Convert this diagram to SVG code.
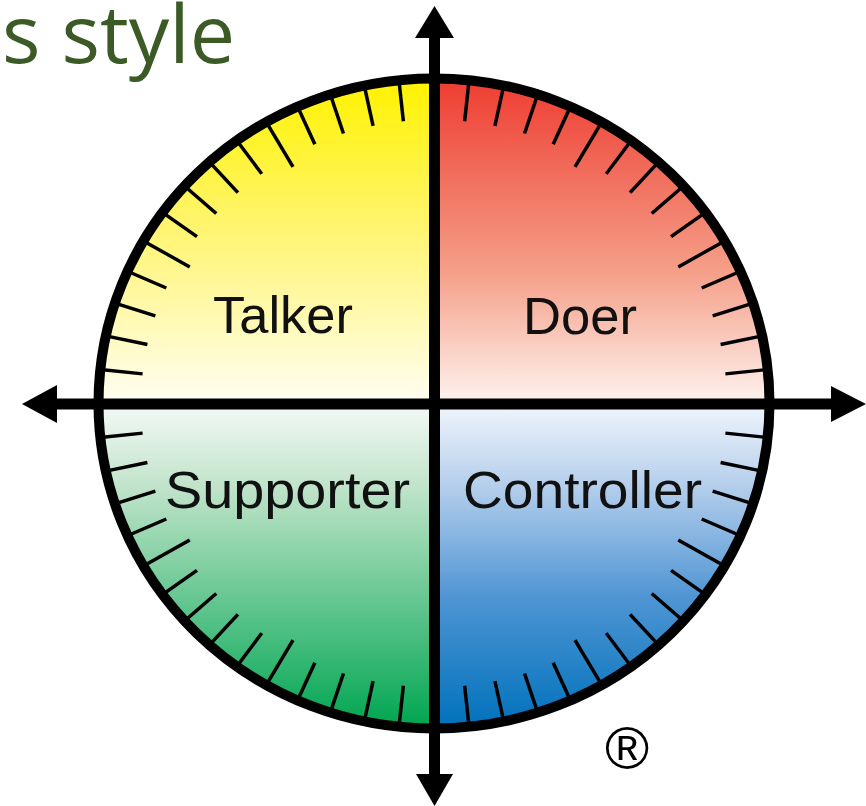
<svg xmlns="http://www.w3.org/2000/svg" xmlns:xlink="http://www.w3.org/1999/xlink" width="866" height="806" viewBox="0 0 866 806">
<style>
.lbl{font-family:"Liberation Sans",Arial,sans-serif;font-size:52px;fill:#111;}
.tk{stroke:#000;stroke-width:3.5;fill:none;}
.ax{stroke:#000;stroke-width:11;fill:none;}
.ring{fill:none;stroke:#000;stroke-width:10;}
.head{fill:#000;}
</style>
<defs>
<linearGradient id="gY" gradientUnits="userSpaceOnUse" x1="0" y1="80" x2="0" y2="403">
<stop offset="0" stop-color="#FFF200"/><stop offset="0.5" stop-color="#FFF57A"/><stop offset="1" stop-color="#FFFEF2"/>
</linearGradient>
<linearGradient id="gR" gradientUnits="userSpaceOnUse" x1="0" y1="80" x2="0" y2="403">
<stop offset="0" stop-color="#EE3D31"/><stop offset="0.6" stop-color="#F5A08A"/><stop offset="1" stop-color="#FEF3EF"/>
</linearGradient>
<linearGradient id="gG" gradientUnits="userSpaceOnUse" x1="0" y1="404" x2="0" y2="726">
<stop offset="0" stop-color="#F4F9F6"/><stop offset="0.25" stop-color="#C2E4CB"/><stop offset="1" stop-color="#00A651"/>
</linearGradient>
<linearGradient id="gB" gradientUnits="userSpaceOnUse" x1="0" y1="404" x2="0" y2="726">
<stop offset="0" stop-color="#F0F5FC"/><stop offset="0.25" stop-color="#B6CFEC"/><stop offset="0.6" stop-color="#4F95D3"/><stop offset="1" stop-color="#0072BC"/>
</linearGradient>
<line id="s" class="tk" x1="0" y1="-333" x2="0" y2="-293"/>
<line id="l" class="tk" x1="0" y1="-333" x2="0" y2="-282"/>
</defs>
<rect width="866" height="806" fill="#fff"/>
<text x="2" y="63" font-family="'Open Sans','Noto Sans',sans-serif" font-size="80" fill="#3B5A26" textLength="233" lengthAdjust="spacingAndGlyphs">s style</text>

<g id="talker">
<path d="M434,403.5 L98.5,403.5 A335.5,325 0 0 1 434,78.5 Z" fill="url(#gY)"/>
</g>
<g id="doer">
<path d="M434,403.5 L434,78.5 A335.5,325 0 0 1 769.5,403.5 Z" fill="url(#gR)"/>
</g>
<g id="controller">
<path d="M434,403.5 L769.5,403.5 A335.5,325 0 0 1 434,728.5 Z" fill="url(#gB)"/>
</g>
<g id="supporter">
<path d="M434,403.5 L434,728.5 A335.5,325 0 0 1 98.5,403.5 Z" fill="url(#gG)"/>
</g>

<g id="ticks" transform="translate(434,403.5) scale(1,0.9687)">
<use xlink:href="#s" transform="rotate(6)"/><use xlink:href="#s" transform="rotate(12)"/><use xlink:href="#s" transform="rotate(18)"/><use xlink:href="#s" transform="rotate(24)"/><use xlink:href="#l" transform="rotate(30)"/><use xlink:href="#s" transform="rotate(36)"/><use xlink:href="#s" transform="rotate(42)"/><use xlink:href="#s" transform="rotate(48)"/><use xlink:href="#s" transform="rotate(54)"/><use xlink:href="#l" transform="rotate(60)"/><use xlink:href="#s" transform="rotate(66)"/><use xlink:href="#s" transform="rotate(72)"/><use xlink:href="#s" transform="rotate(78)"/><use xlink:href="#s" transform="rotate(84)"/>
<use xlink:href="#s" transform="rotate(96)"/><use xlink:href="#s" transform="rotate(102)"/><use xlink:href="#s" transform="rotate(108)"/><use xlink:href="#s" transform="rotate(114)"/><use xlink:href="#l" transform="rotate(120)"/><use xlink:href="#s" transform="rotate(126)"/><use xlink:href="#s" transform="rotate(132)"/><use xlink:href="#s" transform="rotate(138)"/><use xlink:href="#s" transform="rotate(144)"/><use xlink:href="#l" transform="rotate(150)"/><use xlink:href="#s" transform="rotate(156)"/><use xlink:href="#s" transform="rotate(162)"/><use xlink:href="#s" transform="rotate(168)"/><use xlink:href="#s" transform="rotate(174)"/>
<use xlink:href="#s" transform="rotate(186)"/><use xlink:href="#s" transform="rotate(192)"/><use xlink:href="#s" transform="rotate(198)"/><use xlink:href="#s" transform="rotate(204)"/><use xlink:href="#l" transform="rotate(210)"/><use xlink:href="#s" transform="rotate(216)"/><use xlink:href="#s" transform="rotate(222)"/><use xlink:href="#s" transform="rotate(228)"/><use xlink:href="#s" transform="rotate(234)"/><use xlink:href="#l" transform="rotate(240)"/><use xlink:href="#s" transform="rotate(246)"/><use xlink:href="#s" transform="rotate(252)"/><use xlink:href="#s" transform="rotate(258)"/><use xlink:href="#s" transform="rotate(264)"/>
<use xlink:href="#s" transform="rotate(276)"/><use xlink:href="#s" transform="rotate(282)"/><use xlink:href="#s" transform="rotate(288)"/><use xlink:href="#s" transform="rotate(294)"/><use xlink:href="#l" transform="rotate(300)"/><use xlink:href="#s" transform="rotate(306)"/><use xlink:href="#s" transform="rotate(312)"/><use xlink:href="#s" transform="rotate(318)"/><use xlink:href="#s" transform="rotate(324)"/><use xlink:href="#l" transform="rotate(330)"/><use xlink:href="#s" transform="rotate(336)"/><use xlink:href="#s" transform="rotate(342)"/><use xlink:href="#s" transform="rotate(348)"/><use xlink:href="#s" transform="rotate(354)"/>
</g>

<ellipse class="ring" cx="434" cy="403.5" rx="335.5" ry="325"/>

<g id="connectors">
<line class="ax" x1="54" y1="404" x2="834" y2="404"/>
<line class="ax" x1="434.5" y1="35" x2="434.5" y2="777"/>
<polygon class="head" points="22,404 57,385 57,423"/>
<polygon class="head" points="866,404 831,386 831,422"/>
<polygon class="head" points="434.5,6 415,38 454,38"/>
<polygon class="head" points="434.5,806 416,774 453,774"/>
</g>

<g id="labels">
<text class="lbl" x="213" y="333" textLength="140" lengthAdjust="spacingAndGlyphs">Talker</text>
<text class="lbl" x="523" y="334" textLength="114" lengthAdjust="spacingAndGlyphs">Doer</text>
<text class="lbl" x="165" y="508" textLength="245" lengthAdjust="spacingAndGlyphs">Supporter</text>
<text class="lbl" x="463" y="508" textLength="239" lengthAdjust="spacingAndGlyphs">Controller</text>
</g>

<g id="registered">
<text x="627" y="769" text-anchor="middle" font-family="'Liberation Sans',Arial,sans-serif" font-size="60" fill="#000">®</text>
</g>
</svg>
